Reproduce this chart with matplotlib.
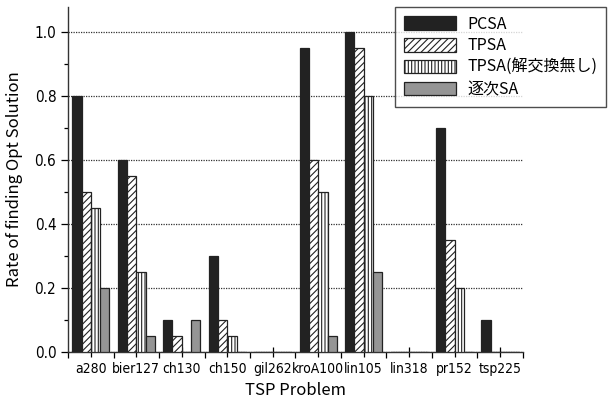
import numpy as np
import matplotlib
matplotlib.use('Agg')
import matplotlib.pyplot as plt
from matplotlib.ticker import MultipleLocator, FixedLocator

plt.rcParams['font.family'] = ['Noto Sans CJK JP', 'DejaVu Sans']
plt.rcParams['hatch.linewidth'] = 0.8

# Podatki
problems = ['a280', 'bier127', 'ch130', 'ch150', 'gil262',
            'kroA100', 'lin105', 'lin318', 'pr152', 'tsp225']
series_names = ['PCSA', 'TPSA', 'TPSA(解交換無し)', '逐次SA']
pcsa = [0.8, 0.6, 0.1, 0.3, 0.0, 0.95, 1.0, 0.0, 0.7, 0.1]
tpsa = [0.5, 0.55, 0.05, 0.1, 0.0, 0.6, 0.95, 0.0, 0.35, 0.0]
tpsa_nx = [0.45, 0.25, 0.0, 0.05, 0.0, 0.5, 0.8, 0.0, 0.2, 0.0]
seq_sa = [0.2, 0.05, 0.1, 0.0, 0.0, 0.05, 0.25, 0.0, 0.0, 0.0]

fig = plt.figure(figsize=(6.08, 4.03), dpi=100)
ax = fig.add_axes([0.112, 0.1266, 0.748, 0.8564])

x = np.arange(len(problems))
w = 0.205
styles = [
    dict(color='#222222', hatch=None),
    dict(color='white', hatch='/////'),
    dict(color='white', hatch='|||||'),
    dict(color='#959595', hatch=None),
]
for i, (vals, name, st) in enumerate(zip([pcsa, tpsa, tpsa_nx, seq_sa], series_names, styles)):
    ax.bar(x + (i - 1.5) * w, vals, width=w, color=st['color'], hatch=st['hatch'],
           edgecolor='#222222', linewidth=0.9, label=name, zorder=3)

ax.set_xlim(-0.5, len(problems) - 0.5)
ax.set_ylim(0, 1.08)

ax.yaxis.set_major_locator(MultipleLocator(0.2))
ax.yaxis.set_minor_locator(MultipleLocator(0.1))
ax.yaxis.set_major_formatter(matplotlib.ticker.FormatStrFormatter('%.1f'))
ax.grid(axis='y', which='major', linestyle=(0, (1.0, 1.0)), color='#333333', linewidth=0.9, zorder=0)

ax.set_xticks(x)
ax.set_xticklabels(problems, family='DejaVu Sans', stretch='condensed', fontsize=10)
ax.xaxis.set_minor_locator(FixedLocator(np.arange(-0.5, len(problems), 1.0)))
ax.tick_params(axis='x', which='major', direction='inout', length=7, width=0.9, pad=4)
ax.tick_params(axis='x', which='minor', direction='out', length=4, width=0.9)
ax.tick_params(axis='y', which='major', direction='out', length=5, width=0.9)
ax.tick_params(axis='y', which='minor', direction='out', length=3, width=0.9)
for lab in ax.get_yticklabels():
    lab.set_family('DejaVu Sans')
    lab.set_stretch('condensed')
    lab.set_fontsize(11)

for s in ['top', 'right']:
    ax.spines[s].set_visible(False)
for s in ['left', 'bottom']:
    ax.spines[s].set_linewidth(1.0)
    ax.spines[s].set_color('#333333')

ax.set_xlabel('TSP Problem', fontsize=12, labelpad=4)
ax.set_ylabel('Rate of finding Opt Solution', fontsize=12, labelpad=8)

leg = fig.legend(loc='upper right', bbox_to_anchor=(0.997, 0.983), fontsize=11.5,
                 frameon=True, fancybox=False, edgecolor='#222222', borderaxespad=0,
                 handlelength=3.3, handleheight=0.9, borderpad=0.55, labelspacing=0.3,
                 handletextpad=0.7)
leg.get_frame().set_linewidth(1.0)

fig.savefig('out.png', dpi=100)
